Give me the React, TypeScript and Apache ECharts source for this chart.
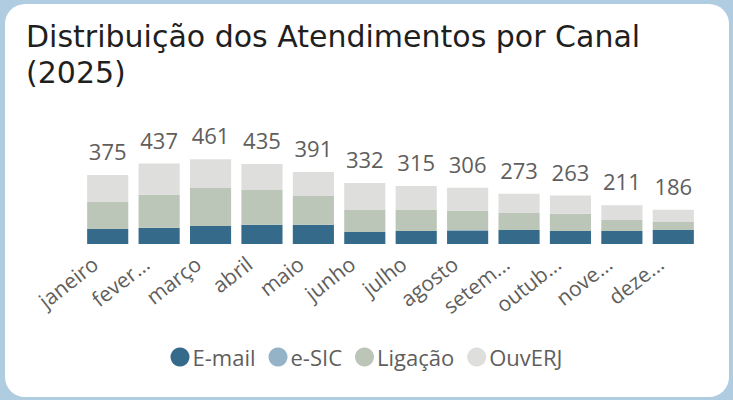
import React, { useEffect, useRef } from "react";
import * as echarts from "echarts";

const months = ["janeiro", "fever...", "março", "abril", "maio", "junho", "julho", "agosto", "setem...", "outub...", "nove...", "deze..."];
const email = [82, 88, 98, 104, 104, 65, 71, 71, 76, 71, 70, 76];
const esic = [0, 0, 0, 0, 0, 0, 0, 5, 0, 0, 0, 0];
const ligacao = [146, 180, 206, 190, 157, 120, 114, 105, 93, 93, 60, 44];
const ouverj = [147, 169, 157, 141, 130, 147, 130, 125, 104, 99, 81, 66];
const totals = [375, 437, 461, 435, 391, 332, 315, 306, 273, 263, 211, 186];

const FONT = "'Segoe UI', 'Open Sans', sans-serif";
const GRAY = "#605e5c";

export default function App() {
  const ref = useRef<HTMLDivElement>(null);
  useEffect(() => {
    if (!ref.current) return;
    const chart = echarts.init(ref.current, undefined, { renderer: "svg" });
    const base = { type: "bar", stack: "total", barWidth: "80%" };
    chart.setOption({
      animation: false,
      backgroundColor: "#afcce0",
      graphic: [
        {
          type: "rect",
          z: -10,
          shape: { x: 5, y: 4, width: 724, height: 393, r: 20 },
          style: { fill: "#ffffff" },
        },
      ],
      title: {
        text: "Distribuição dos Atendimentos por Canal\n(2025)",
        left: 21,
        top: 13,
        textStyle: {
          fontFamily: "'DejaVu Sans', sans-serif",
          fontSize: 30,
          lineHeight: 36,
          fontWeight: "normal",
          color: "#1f1f1f",
        },
      },
      legend: {
        bottom: 27,
        left: "center",
        icon: "circle",
        itemWidth: 19,
        itemHeight: 19,
        itemGap: 13,
        textStyle: { fontFamily: FONT, fontSize: 22, color: GRAY, padding: [0, 0, 0, -2] },
        data: ["E-mail", "e-SIC", "Ligação", "OuvERJ"],
      },
      grid: { left: 82, right: 34, top: 152, bottom: 156 },
      xAxis: {
        type: "category",
        data: months,
        axisLine: { show: false },
        axisTick: { show: false },
        axisLabel: {
          rotate: 38,
          interval: 0,
          margin: 7,
          fontFamily: FONT,
          fontSize: 21,
          color: GRAY,
          padding: [0, 16, 0, 0],
        },
      },
      yAxis: { type: "value", min: 0, max: 500, show: false, splitLine: { show: false } },
      series: [
        { ...base, name: "E-mail", data: email, itemStyle: { color: "#356a8b" } },
        { ...base, name: "e-SIC", data: esic, itemStyle: { color: "#94b3c7" } },
        { ...base, name: "Ligação", data: ligacao, itemStyle: { color: "#bbc6b8" } },
        {
          ...base,
          name: "OuvERJ",
          data: ouverj,
          itemStyle: { color: "#dededc" },
          label: {
            show: true,
            position: "top",
            distance: 13,
            fontFamily: FONT,
            fontSize: 22,
            color: GRAY,
            formatter: (p: any) => String(totals[p.dataIndex]),
          },
        },
      ],
    });
    return () => chart.dispose();
  }, []);
  return <div ref={ref} style={{ position: "fixed", left: 0, top: 0, width: 733, height: 400 }} />;
}
